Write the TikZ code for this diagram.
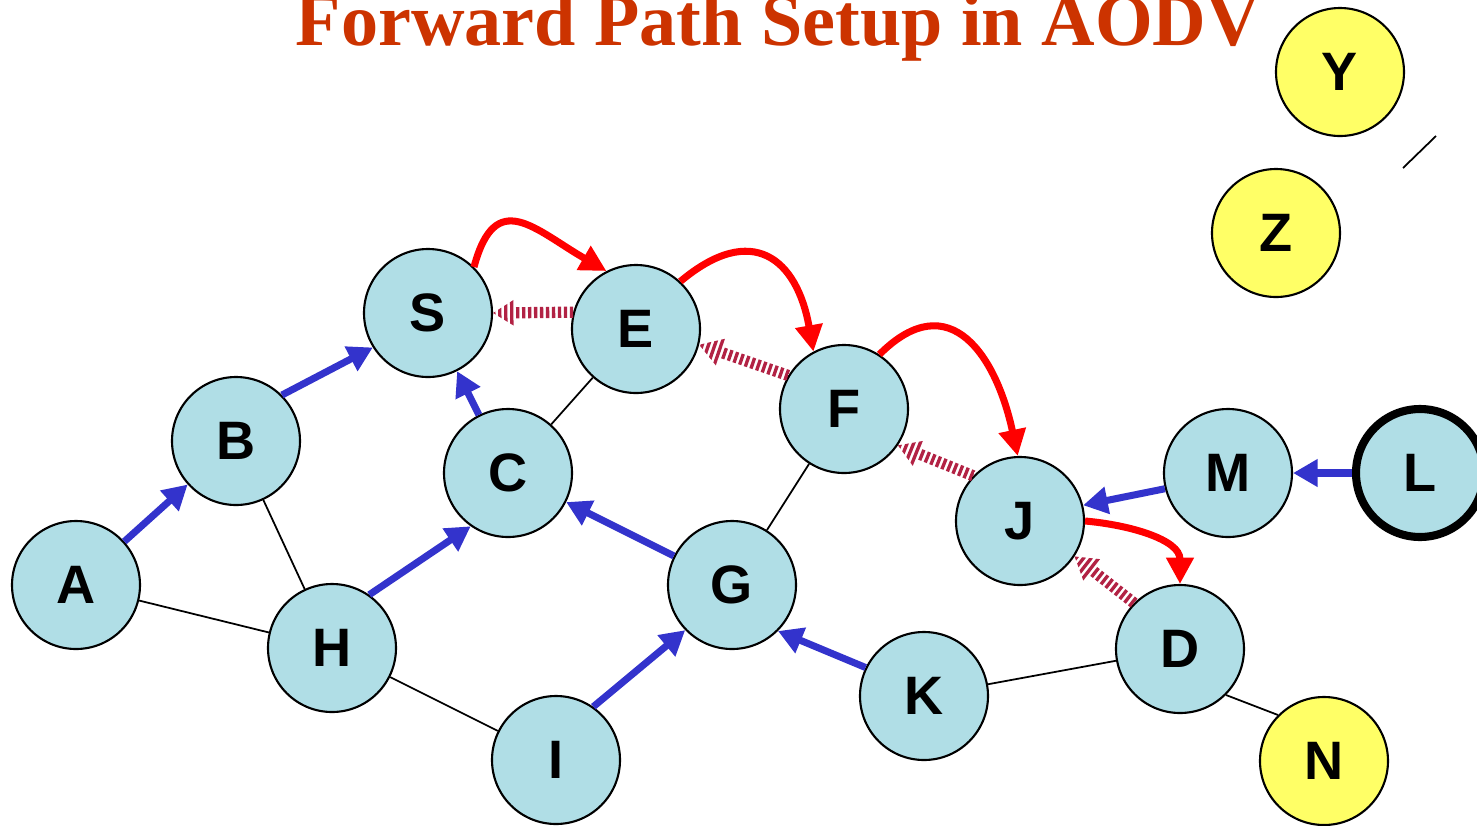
\documentclass[tikz,border=0pt]{standalone}
\usepackage{fontspec}
\setmainfont{Liberation Serif}
\setsansfont{Liberation Sans}
\usetikzlibrary{calc}
\usetikzlibrary{positioning}
\usetikzlibrary{arrows.meta}

\definecolor{bubble}{RGB}{176,222,230}
\definecolor{lemon}{RGB}{255,255,102}
\definecolor{rreqblue}{RGB}{51,51,204}
\definecolor{fwdred}{RGB}{255,0,0}
\definecolor{rrepred}{RGB}{178,34,68}
\definecolor{titlered}{RGB}{204,51,0}

% striped fat arrow: #1 tail, #2 tip
\newcommand{\hatcharrow}[2]{%
  \coordinate (hb) at ($(#2)!6.4pt!(#1)$);
  \begin{scope}
    \clip ($(#1)!1.6pt!90:(#2)$) -- ($(hb)!1.6pt!90:(#2)$) -- ($(hb)!4pt!90:(#2)$)
      -- (#2) -- ($(hb)!4pt!-90:(#2)$) -- ($(hb)!1.6pt!-90:(#2)$) -- ($(#1)!1.6pt!-90:(#2)$) -- cycle;
    \draw[rrep] (#1) -- (#2);
  \end{scope}}

\begin{document}
\begin{tikzpicture}[node distance=16mm,on grid,
    host/.style={circle,draw=black,line width=0.6pt,fill=bubble,minimum size=12.8mm,inner sep=0pt,
      font=\sffamily\bfseries\fontsize{15.4}{16}\selectfont},
    idle/.style={host,fill=lemon},
    link/.style={draw=black,line width=0.5pt},
    rreq/.style={draw=rreqblue,line width=2pt,-{Triangle[length=7pt,width=7.5pt]}},
    fwd/.style={draw=fwdred,line width=2pt,-{Triangle[length=7.5pt,width=7.5pt]}},
    rrep/.style={draw=rrepred,line width=10pt,dash pattern=on 0.95pt off 0.75pt}]
  \useasboundingbox (0,0) rectangle (14.77,-8.25);

  \node[anchor=base,text=titlered,font=\bfseries\fontsize{21.1}{22}\selectfont] (title) at (7.78,-0.45)
    {Forward Path Setup in AODV};

  % hosts
  \node[host] (A) at (0.76,-5.85)                       {A};
  \node[host] (B) [above right=1.44cm and 1.60cm of A]  {B};
  \node[host] (S) [above right=1.28cm and 1.92cm of B]  {S};
  \node[host] (E) [below right=0.16cm and 2.08cm of S]  {E};
  \node[host] (C) [below right=1.60cm and 0.80cm of S]  {C};
  \node[host] (H) [below right=0.63cm and 2.56cm of A]  {H};
  \node[host] (I) [below right=1.12cm and 2.24cm of H]  {I};
  \node[host] (G) [above right=1.75cm and 1.76cm of I]  {G};
  \node[host] (F) [above right=1.76cm and 1.12cm of G]  {F};
  \node[host] (J) [below right=1.12cm and 1.76cm of F]  {J};
  \node[host] (K) [below right=1.11cm and 1.92cm of G]  {K};
  \node[host] (D) [below right=1.28cm and 1.60cm of J]  {D};
  \node[host] (M) [above right=0.48cm and 2.08cm of J]  {M};
  \node[host,line width=2.3pt] (L) [right=1.92cm of M]  {L};
  \node[idle] (N) [below right=1.12cm and 1.44cm of D]  {N};
  \node[idle] (Z) [above right=2.40cm and 0.48cm of M]  {Z};
  \node[idle] (Y) [above right=1.61cm and 0.64cm of Z]  {Y};

  % links
  \path[every edge/.style=link]
    (A) edge (H)
    (B) edge (H)
    (H) edge (I)
    (C) edge (E)
    (G) edge (F)
    (K) edge (D)
    (D.-45) edge (N.135);
  \coordinate (y1) at (14.03,-1.68);
  \coordinate (y2) at (14.36,-1.36);
  \draw[link] (y1) -- (y2);

  % route request, reverse pointers
  \path[every edge/.style=rreq]
    (A) edge (B)
    (B.45) edge (S.212)
    (C) edge (S)
    (H.55) edge (C.235)
    (G) edge (C)
    (I.55) edge (G.224)
    (K.154) edge (G.-45)
    (M.194) edge (J.14)
    (L) edge (M);

  % route reply
  \hatcharrow{E.165}{S.0}
  \hatcharrow{F.149}{E.-14}
  \hatcharrow{J.136}{F.-34}
  \hatcharrow{D.135}{J.-33}

  % forward path
  \path[every edge/.style=fwd]
    (S.45) edge[out=75,in=150,looseness=1.6] (E.117)
    (E.47) edge[out=40,in=100,looseness=1.6] (F.118)
    (F.57) edge[out=45,in=102,looseness=1.5] (J.92)
    (J.0) edge[out=-5,in=90] (D.90);
\end{tikzpicture}
\end{document}
